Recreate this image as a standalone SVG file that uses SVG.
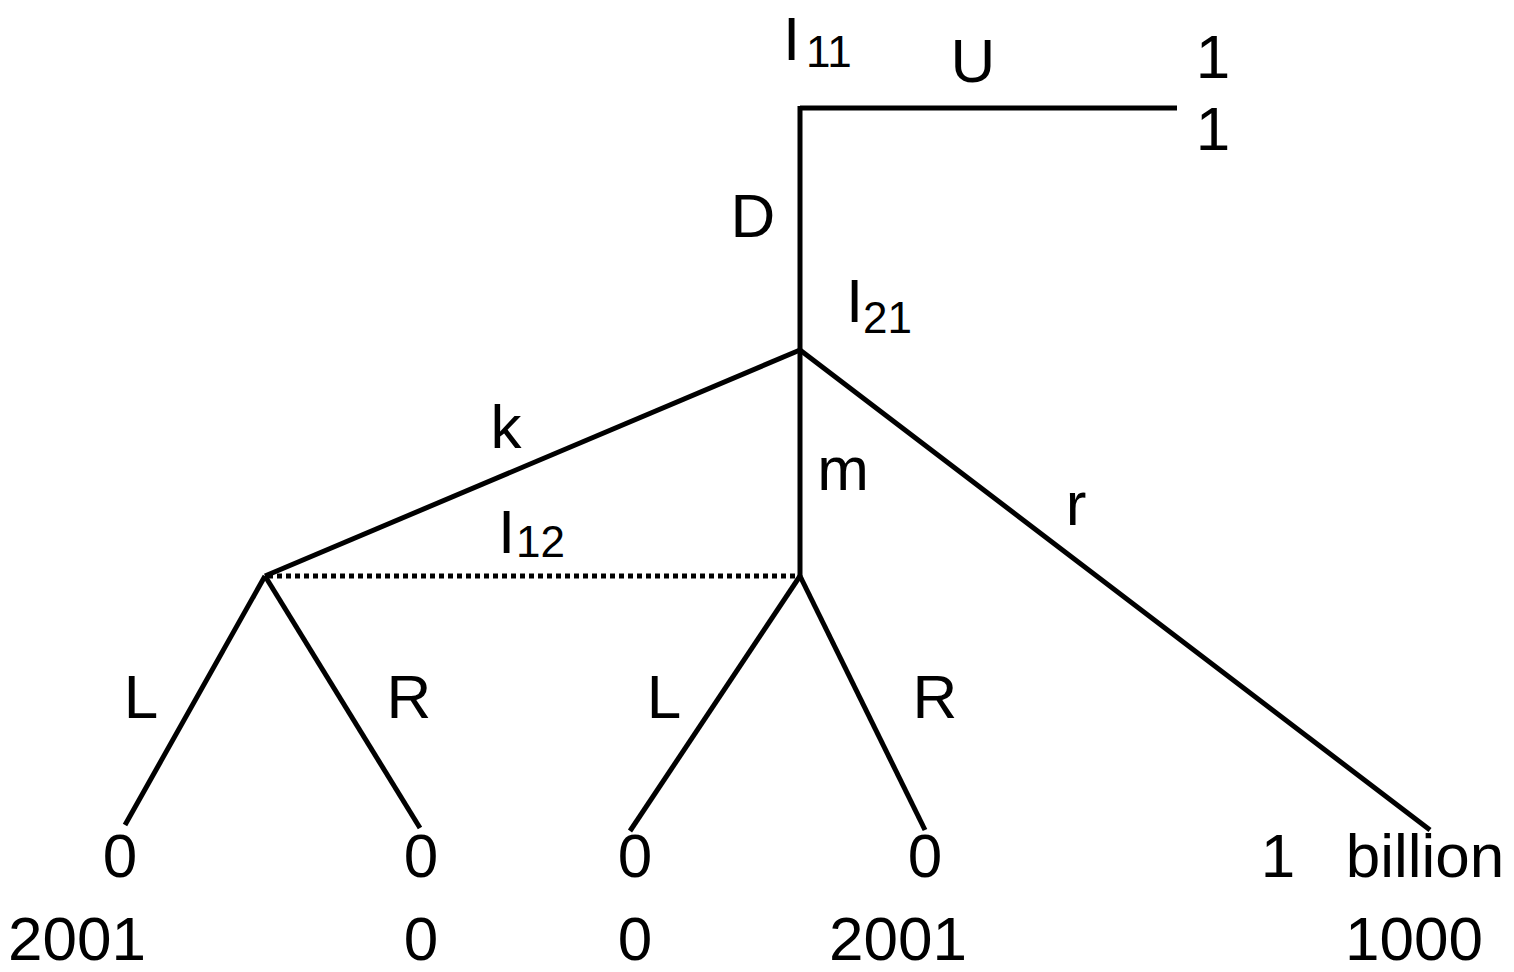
<svg xmlns="http://www.w3.org/2000/svg" width="1514" height="972" viewBox="0 0 1514 972">
<style>
text{font-family:"Liberation Sans",Arial,sans-serif;font-size:62px;fill:#000}
.sub{font-size:44px}
.e{stroke:#000;stroke-width:5;fill:none}
.dot{stroke:#000;stroke-width:5;stroke-dasharray:5 4;fill:none}
</style>
<rect width="1514" height="972" fill="#fff"/>
<g id="connectors">
<line class="e" x1="800" y1="108" x2="1177" y2="108"/>
<line class="e" x1="800" y1="106" x2="800" y2="350"/>
<line class="e" x1="800" y1="350" x2="265" y2="576"/>
<line class="e" x1="800" y1="350" x2="800" y2="576"/>
<line class="e" x1="800" y1="350" x2="1430" y2="830"/>
<line class="dot" x1="268" y1="576" x2="800" y2="576"/>
<line class="e" x1="265" y1="576" x2="125" y2="825"/>
<line class="e" x1="265" y1="576" x2="420" y2="828"/>
<line class="e" x1="800" y1="576" x2="630" y2="831"/>
<line class="e" x1="800" y1="576" x2="925" y2="830"/>
</g>
<g id="labels">
<text x="783" y="60">I</text><text class="sub" x="806" y="67">11</text>
<text x="973" y="82" text-anchor="middle">U</text>
<text x="1213" y="78" text-anchor="middle">1</text>
<text x="1213" y="150" text-anchor="middle">1</text>
<text x="753" y="237" text-anchor="middle">D</text>
<text x="846" y="322">I</text><text class="sub" x="863" y="333">21</text>
<text x="506" y="448" text-anchor="middle">k</text>
<text x="843" y="490" text-anchor="middle">m</text>
<text x="1076" y="525" text-anchor="middle">r</text>
<text x="498" y="553">I</text><text class="sub" x="516" y="557">12</text>
<text x="141" y="718" text-anchor="middle">L</text>
<text x="409" y="718" text-anchor="middle">R</text>
<text x="664" y="718" text-anchor="middle">L</text>
<text x="935" y="718" text-anchor="middle">R</text>
</g>
<g id="payoffs">
<text x="120" y="877" text-anchor="middle">0</text>
<text x="421" y="877" text-anchor="middle">0</text>
<text x="635" y="877" text-anchor="middle">0</text>
<text x="925" y="877" text-anchor="middle">0</text>
<text x="1278" y="877" text-anchor="middle">1</text>
<text x="1425" y="877" text-anchor="middle">billion</text>
<text x="77" y="960" text-anchor="middle">2001</text>
<text x="421" y="960" text-anchor="middle">0</text>
<text x="635" y="960" text-anchor="middle">0</text>
<text x="898" y="960" text-anchor="middle">2001</text>
<text x="1414" y="960" text-anchor="middle">1000</text>
</g>
</svg>
